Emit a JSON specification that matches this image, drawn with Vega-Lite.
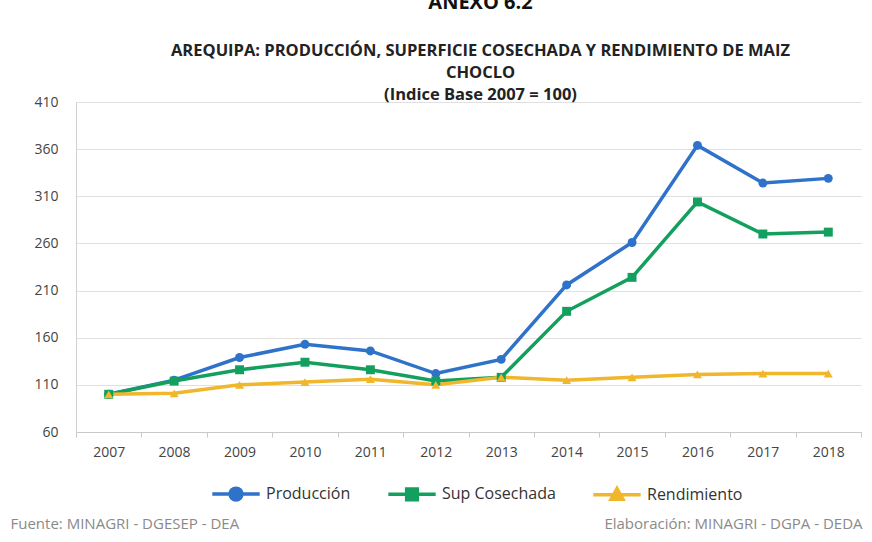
{
  "$schema": "https://vega.github.io/schema/vega-lite/v6.json",
  "autosize": {"type": "none"},
  "width": 785,
  "height": 330,
  "padding": {"left": 76, "top": 102, "right": 11, "bottom": 110},
  "background": "white",
  "title": {
    "text": "ANEXO 6.2",
    "subtitle": ["AREQUIPA: PRODUCCIÓN, SUPERFICIE COSECHADA Y RENDIMIENTO DE MAIZ", "CHOCLO", "(Indice Base 2007 = 100)"],
    "anchor": "middle",
    "dx": 12,
    "offset": -8,
    "font": "Open Sans, sans-serif",
    "fontSize": 20,
    "fontWeight": "bold",
    "color": "#111",
    "subtitleFont": "Open Sans, sans-serif",
    "subtitleFontSize": 16.5,
    "subtitleFontWeight": "bold",
    "subtitleColor": "#222",
    "subtitleLineHeight": 22,
    "subtitlePadding": 30
  },
  "config": {
    "font": "Open Sans, sans-serif",
    "view": {"stroke": null}
  },
  "data": {
    "values": [
      {"year": "2007", "serie": "Producción", "valor": 100},
      {"year": "2008", "serie": "Producción", "valor": 115},
      {"year": "2009", "serie": "Producción", "valor": 139},
      {"year": "2010", "serie": "Producción", "valor": 153},
      {"year": "2011", "serie": "Producción", "valor": 146},
      {"year": "2012", "serie": "Producción", "valor": 122},
      {"year": "2013", "serie": "Producción", "valor": 137},
      {"year": "2014", "serie": "Producción", "valor": 216},
      {"year": "2015", "serie": "Producción", "valor": 261},
      {"year": "2016", "serie": "Producción", "valor": 364},
      {"year": "2017", "serie": "Producción", "valor": 324},
      {"year": "2018", "serie": "Producción", "valor": 329},
      {"year": "2007", "serie": "Sup Cosechada", "valor": 100},
      {"year": "2008", "serie": "Sup Cosechada", "valor": 114},
      {"year": "2009", "serie": "Sup Cosechada", "valor": 126},
      {"year": "2010", "serie": "Sup Cosechada", "valor": 134},
      {"year": "2011", "serie": "Sup Cosechada", "valor": 126},
      {"year": "2012", "serie": "Sup Cosechada", "valor": 114},
      {"year": "2013", "serie": "Sup Cosechada", "valor": 118},
      {"year": "2014", "serie": "Sup Cosechada", "valor": 188},
      {"year": "2015", "serie": "Sup Cosechada", "valor": 224},
      {"year": "2016", "serie": "Sup Cosechada", "valor": 304},
      {"year": "2017", "serie": "Sup Cosechada", "valor": 270},
      {"year": "2018", "serie": "Sup Cosechada", "valor": 272},
      {"year": "2007", "serie": "Rendimiento", "valor": 100},
      {"year": "2008", "serie": "Rendimiento", "valor": 101},
      {"year": "2009", "serie": "Rendimiento", "valor": 110},
      {"year": "2010", "serie": "Rendimiento", "valor": 113},
      {"year": "2011", "serie": "Rendimiento", "valor": 116},
      {"year": "2012", "serie": "Rendimiento", "valor": 110},
      {"year": "2013", "serie": "Rendimiento", "valor": 118},
      {"year": "2014", "serie": "Rendimiento", "valor": 115},
      {"year": "2015", "serie": "Rendimiento", "valor": 118},
      {"year": "2016", "serie": "Rendimiento", "valor": 121},
      {"year": "2017", "serie": "Rendimiento", "valor": 122},
      {"year": "2018", "serie": "Rendimiento", "valor": 122}
    ]
  },
  "encoding": {
    "x": {
      "field": "year", "type": "ordinal",
      "scale": {"type": "band", "paddingInner": 0, "paddingOuter": 0},
      "axis": {
        "title": "Elaboración: MINAGRI - DGPA - DEDA",
        "titleX": 786, "titleY": 96, "titleAlign": "right", "titleBaseline": "alphabetic",
        "titleFontSize": 15, "titleFontWeight": "normal", "titleColor": "#8a8a8a",
        "labelAngle": 0, "labelFontSize": 14, "labelColor": "#444", "labelPadding": 8,
        "tickBand": "extent", "tickSize": 5, "tickColor": "#c8c8c8",
        "domainColor": "#c8c8c8", "grid": false
      }
    },
    "y": {
      "field": "valor", "type": "quantitative",
      "scale": {"domain": [60, 410], "nice": false, "zero": false},
      "axis": {
        "values": [60, 110, 160, 210, 260, 310, 360, 410],
        "title": "Fuente: MINAGRI - DGESEP - DEA",
        "titleAngle": 0, "titleX": -66, "titleY": 426, "titleAlign": "left", "titleBaseline": "alphabetic",
        "titleFontSize": 15, "titleFontWeight": "normal", "titleColor": "#8a8a8a",
        "labelFontSize": 14, "labelColor": "#444", "labelPadding": 18,
        "ticks": false, "domainColor": "#d0d0d0",
        "gridColor": "#e0e0e0", "gridWidth": 1.2
      }
    },
    "color": {
      "field": "serie", "type": "nominal",
      "scale": {"domain": ["Producción", "Sup Cosechada", "Rendimiento"], "range": ["#2f72c9", "#13a05e", "#f0b62c"]},
      "legend": {
        "orient": "none", "legendX": 146, "legendY": 378, "direction": "horizontal", "title": null,
        "labelFontSize": 16, "labelColor": "#333", "labelOffset": 16,
        "symbolSize": 560, "symbolStrokeWidth": 3.5, "columnPadding": 30,
        "encode": {
          "symbols": {
            "update": {
              "shape": {"signal": "datum.value === 'Producción' ? 'M-2,0H2M-0.5,0A0.5,0.5 0 1,0 0.5,0A0.5,0.5 0 1,0 -0.5,0Z' : datum.value === 'Sup Cosechada' ? 'M-2,0H2M-0.45,-0.45H0.45V0.45H-0.45Z' : 'M-2,0H2M0,-0.5L0.5,0.4L-0.5,0.4Z'"},
              "fill": {"scale": "color", "field": "value"},
              "stroke": {"scale": "color", "field": "value"}
            }
          }
        }
      }
    }
  },
  "layer": [
    {
      "mark": {"type": "line", "strokeWidth": 3.5},
      "encoding": {}
    },
    {
      "mark": {"type": "point", "filled": true, "opacity": 1, "size": 80},
      "encoding": {
        "shape": {
          "condition": [
            {"test": "datum.serie === 'Sup Cosechada'", "value": "square"},
            {"test": "datum.serie === 'Rendimiento'", "value": "triangle-up"}
          ],
          "value": "circle"
        }
      }
    }
  ]
}
